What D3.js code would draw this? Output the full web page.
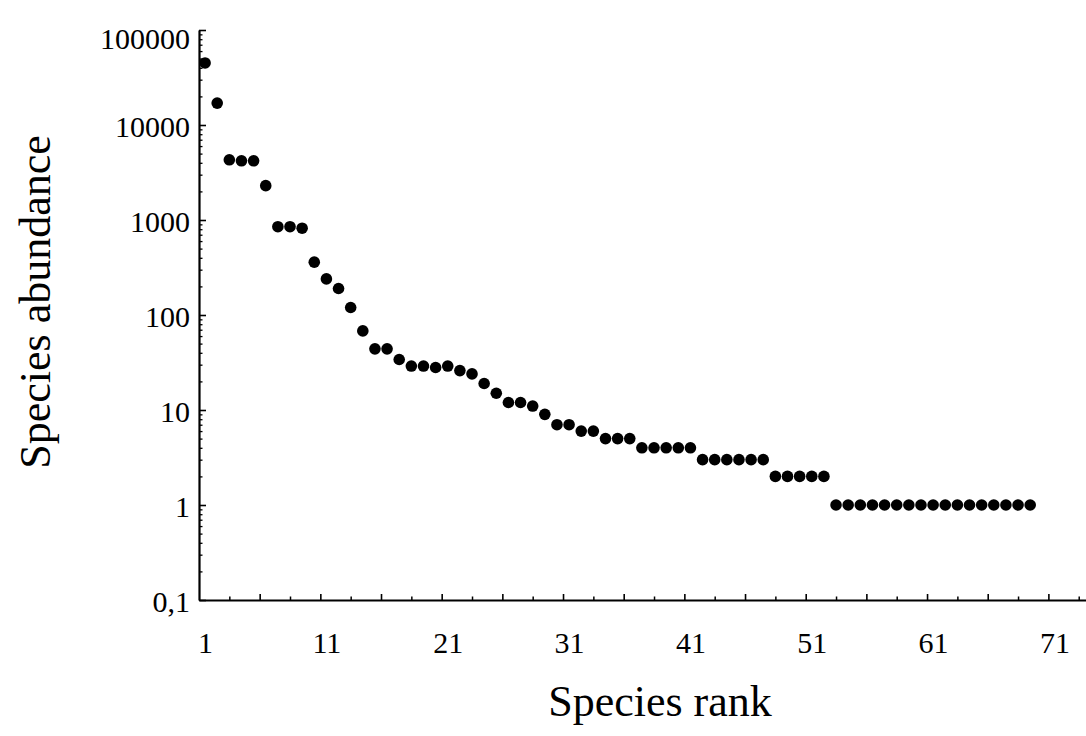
<!DOCTYPE html>
<html>
<head>
<meta charset="utf-8">
<script src="https://cdn.jsdelivr.net/npm/d3@7"></script>
<style>
  html, body { margin: 0; padding: 0; background: #fff; }
  svg { display: block; }
  .axis text { font-family: "Liberation Serif", "Times New Roman", serif; fill: #000; }
  .axis path, .axis line { stroke: #000; }
</style>
</head>
<body>
<svg id="chart" width="1086" height="736"></svg>
<script>
// Rank-abundance data: abundance of each species ordered by rank (1..69)
const abundance = [
  45000, 17000, 4300, 4200, 4200, 2300, 850, 850, 820, 360,
  240, 190, 120, 68, 44, 44, 34, 29, 29, 28,
  29, 26, 24, 19, 15, 12, 12, 11, 9, 7,
  7, 6, 6, 5, 5, 5, 4, 4, 4, 4,
  4, 3, 3, 3, 3, 3, 3, 2, 2, 2,
  2, 2, 1, 1, 1, 1, 1, 1, 1, 1,
  1, 1, 1, 1, 1, 1, 1, 1, 1
];
const ranks = abundance.map((_, i) => i + 1);

const xLabelValues = [1, 11, 21, 31, 41, 51, 61, 71];
const xMajorTicks = [5.5, 10.5, 15.5, 20.5, 25.5, 30.5, 35.5, 40.5, 45.5, 50.5, 55.5, 60.5, 65.5, 70.5];
const xMinorTicks = [3, 8, 13, 18, 23, 28, 33, 38, 43, 48, 53, 58, 63, 68, 73];
const yTickValues = [0.1, 1, 10, 100, 1000, 10000, 100000];
const yTickLabels = ["0,1", "1", "10", "100", "1000", "10000", "100000"];
const xTitle = "Species rank";
const yTitle = "Species abundance";

const svg = d3.select("#chart");
const plotLeft = 199, plotRight = 1086, plotTop = 30, plotBottom = 600;
const serif = "Liberation Serif, Times New Roman, serif";

const x = d3.scaleLinear().domain([0.5, 73.6]).range([plotLeft, plotRight]);
const y = d3.scaleLog().domain([0.1, 100000]).range([plotBottom, plotTop]);

// minor log ticks (2..9 within each decade)
const yMinor = [];
for (let e = -1; e < 5; e++) {
  for (let m = 2; m <= 9; m++) yMinor.push(m * Math.pow(10, e));
}

// y axis: minor ticks, then major ticks with labels
svg.append("g").attr("class", "axis")
  .attr("transform", `translate(${plotLeft},0)`)
  .call(d3.axisLeft(y).tickValues(yMinor).tickFormat("").tickSizeInner(-3.5).tickSizeOuter(0))
  .call(g => g.select(".domain").remove())
  .selectAll("line").attr("stroke-width", 1.3);

const yAxis = svg.append("g").attr("class", "axis")
  .attr("transform", `translate(${plotLeft},0)`)
  .call(d3.axisLeft(y).tickValues(yTickValues)
    .tickFormat((d, i) => yTickLabels[i])
    .tickSizeInner(-7).tickSizeOuter(0).tickPadding(9));
yAxis.select(".domain").attr("stroke-width", 2.2);
yAxis.selectAll("line").attr("stroke-width", 1.6);
// the topmost label sits a little lower so it stays inside the page
yAxis.selectAll("text").attr("font-size", 30)
  .attr("dy", d => d === 100000 ? "0.62em" : "0.38em");

// x axis: minor and major tick marks pointing inward
svg.append("g").attr("class", "axis")
  .attr("transform", `translate(0,${plotBottom})`)
  .call(d3.axisBottom(x).tickValues(xMinorTicks).tickFormat("").tickSizeInner(-3.5).tickSizeOuter(0))
  .call(g => g.select(".domain").remove())
  .selectAll("line").attr("stroke-width", 1.5);

const xAxis = svg.append("g").attr("class", "axis")
  .attr("transform", `translate(0,${plotBottom})`)
  .call(d3.axisBottom(x).tickValues(xMajorTicks).tickFormat("").tickSizeInner(-6).tickSizeOuter(0));
xAxis.select(".domain").attr("stroke-width", 2.2);
xAxis.selectAll("line").attr("stroke-width", 1.6);

// x tick labels at ranks 1, 11, 21, ...
const xLab = svg.append("g").attr("class", "axis")
  .attr("transform", `translate(0,${plotBottom})`)
  .call(d3.axisBottom(x).tickValues(xLabelValues).tickFormat(d3.format("d")).tickSize(0).tickPadding(53));
xLab.select(".domain").remove();
xLab.selectAll("text").attr("font-size", 30).attr("dy", "0");

// axis titles
svg.append("text")
  .attr("x", 660).attr("y", 716)
  .attr("text-anchor", "middle")
  .attr("font-family", serif)
  .attr("font-size", 44)
  .text(xTitle);

svg.append("text")
  .attr("transform", "translate(50,302) rotate(-90)")
  .attr("text-anchor", "middle")
  .attr("font-family", serif)
  .attr("font-size", 44)
  .text(yTitle);

// points
svg.append("g")
  .selectAll("circle")
  .data(abundance)
  .join("circle")
  .attr("cx", (d, i) => x(ranks[i]))
  .attr("cy", d => y(d))
  .attr("r", 5.8)
  .attr("fill", "#000");
</script>
</body>
</html>
